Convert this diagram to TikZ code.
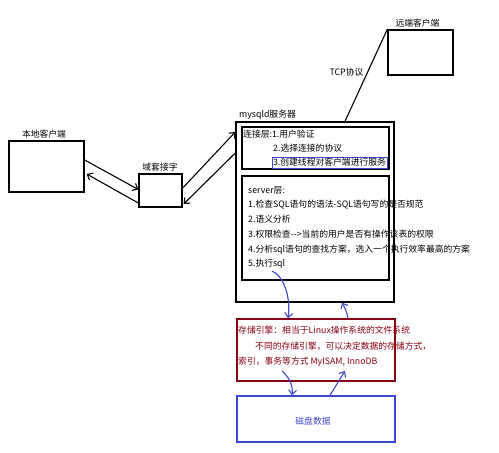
\documentclass[tikz,border=0pt]{standalone}
\usepackage{fontspec}
\setmainfont{Noto Sans CJK SC}
\usetikzlibrary{arrows.meta}
\definecolor{myblue}{HTML}{3F48CC}
\definecolor{myred}{HTML}{880015}
\begin{document}
\begin{tikzpicture}[x=1pt,y=-1pt,
  box/.style={draw=black,line width=1.4pt,inner sep=0pt},
  lbl/.style={inner sep=0pt,font=\fontsize{8.8}{10}\selectfont},
  txt/.style={lbl,anchor=west},
  arr/.style={line width=1.1pt,-{Straight Barb[length=4.5pt,width=8pt]}},
  barr/.style={draw=myblue,line width=1.1pt,-{Straight Barb[length=4.5pt,width=8pt]}}]
\useasboundingbox[fill=white] (0,0) rectangle (499,453);
% boxes
\node[box,minimum width=75pt,minimum height=51pt] (local) at (46.5,166.5) {};
\node[lbl] (locall) at (44,134) {本地客户端};
\node[box,minimum width=43pt,minimum height=33pt] (sock) at (160.5,190.5) {};
\node[lbl] (sockl) at (160,167.5) {域套接字};
\node[box,minimum width=65pt,minimum height=45pt] (remote) at (420.5,52.5) {};
\node[lbl] (remotel) at (417.5,23) {远端客户端};
\node[box,minimum width=158pt,minimum height=180pt] (server) at (315,212) {};
\node[txt] (serverl) at (239,115) {mysqld服务器};
\node[box,minimum width=147pt,minimum height=42pt] (conn) at (315.5,148) {};
\node[txt] (c1) at (243,134) {连接层:1.用户验证};
\node[txt] (c2) at (273,148) {2.选择连接的协议};
\node[draw=myblue,line width=1pt,inner sep=0pt,minimum width=115pt,minimum height=11pt] (c3box) at (329.5,162.5) {};
\node[lbl] (c3) at (c3box.center) {3.创建线程对客户端进行服务};
\node[box,minimum width=147pt,minimum height=104pt] (slayer) at (315.5,228) {};
\node[txt] (s0) at (248,190) {server层:};
\node[txt] (s1) at (248,204.5) {1.检查SQL语句的语法-SQL语句写的是否规范};
\node[txt] (s2) at (248,219.5) {2.语义分析};
\node[txt] (s3) at (248,234.5) {3.权限检查-{}-{}>当前的用户是否有操作该表的权限};
\node[txt] (s4) at (248,249.5) {4.分析sql语句的查找方案，选入一个执行效率最高的方案};
\node[txt] (s5) at (248,264) {5.执行sql};
\node[draw=myred,line width=1.4pt,minimum width=158pt,minimum height=62pt] (store) at (316,350) {};
\node[txt,text=myred] (e1) at (238,330) {存储引擎：相当于Linux操作系统的文件系统};
\node[txt,text=myred] (e2) at (255,346.5) {不同的存储引擎，可以决定数据的存储方式，};
\node[txt,text=myred] (e3) at (238,362) {索引，事务等方式 MyISAM, InnoDB};
\node[draw=myblue,line width=1.4pt,minimum width=158pt,minimum height=46pt] (disk) at (316,419) {};
\node[lbl,text=myblue] (diskl) at (313,421) {磁盘数据};
% black connectors
\draw[arr] ([yshift=6.5pt]local.east) -- ([yshift=1pt]sock.west);
\draw[arr] ([yshift=-12.5pt]sock.west) -- ([xshift=2pt,yshift=-7.5pt]local.east);
\draw[arr] ([yshift=2.5pt]sock.east) -- ([yshift=80pt]server.west);
\draw[arr] ([yshift=59pt]server.west) -- ([xshift=1pt,yshift=-13.5pt]sock.east);
\draw[line width=1.1pt] (remote.north west) -- ([xshift=30pt]server.north);
\node[lbl] (tcp) at (346.5,72) {TCP协议};
% blue connectors
\coordinate (a0) at (272,271);
\coordinate (c0) at (282,371);
\coordinate (d1) at (345,371);
\draw[barr] (a0) .. controls (284,276) and (291,298) .. ([xshift=-28pt]store.north);
\draw[barr] ([xshift=32pt]store.north) .. controls (346,310) .. ([xshift=27pt]server.south);
\draw[barr] (c0) .. controls (290,378) and (293,386) .. ([xshift=-24pt]disk.north);
\draw[barr] ([xshift=14pt]disk.north) -- (d1);
\end{tikzpicture}
\end{document}
